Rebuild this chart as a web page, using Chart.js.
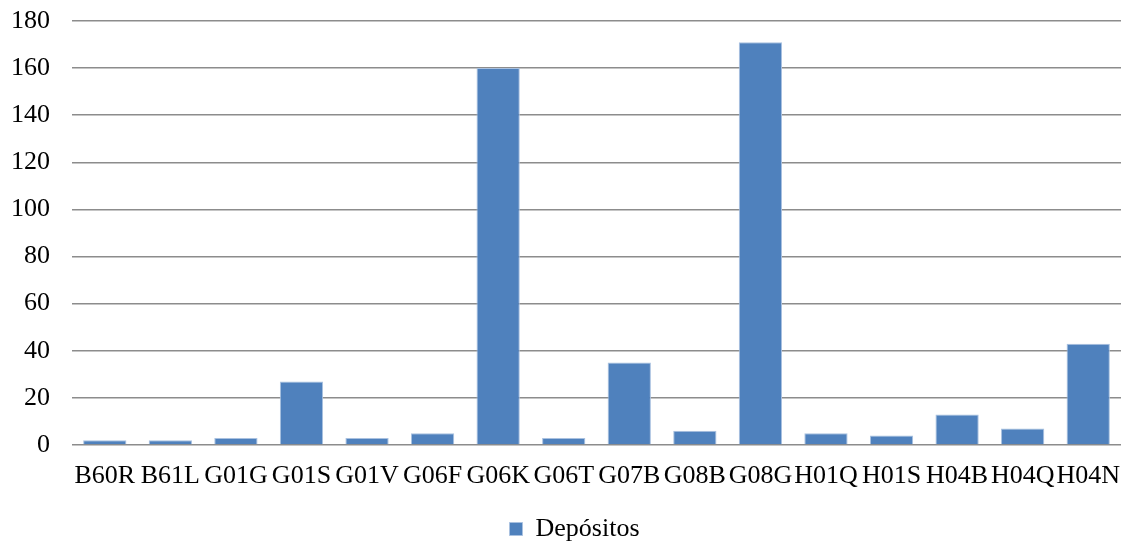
<!DOCTYPE html>
<html>
<head>
<meta charset="utf-8">
<script src="https://cdn.jsdelivr.net/npm/chart.js@4"></script>
<style>
  body { margin: 0; background: #fff; }
  #wrap { width: 1126px; height: 542px; }
</style>
</head>
<body>
<div id="wrap"><canvas id="chart"></canvas></div>
<script>
// Categories and values.
const categories = ['B60R', 'B61L', 'G01G', 'G01S', 'G01V', 'G06F', 'G06K', 'G06T',
    'G07B', 'G08B', 'G08G', 'H01Q', 'H01S', 'H04B', 'H04Q', 'H04N'];
const depositos = [2, 2, 3, 27, 3, 5, 160, 3, 35, 6, 171, 5, 4, 13, 7, 43];
const yTicks = [0, 20, 40, 60, 80, 100, 120, 140, 160, 180];

const font = { family: '"Liberation Serif", "Times New Roman", serif', size: 26, lineHeight: 1.1 };

// Push the legend a little lower and to the right, as in the original.
const legendShift = {
    id: 'legendShift',
    afterLayout(chart) {
        chart.legend.top += 10;
        chart.legend.bottom += 10;
        chart.legend.left += 14;
        chart.legend.right += 14;
    },
};

const ctx = document.getElementById('chart').getContext('2d');
const chart = new Chart(ctx, {
    type: 'bar',
    data: {
        labels: categories,
        datasets: [
            {
                label: 'Depósitos',
                data: depositos,
                backgroundColor: '#4f81bd',
                borderColor: '#a9c1e0',
                borderWidth: 1,
                categoryPercentage: 1,
                barPercentage: 0.66,
            },
        ],
    },
    plugins: [legendShift],
    options: {
        responsive: true,
        maintainAspectRatio: false,
        animation: false,
        layout: { padding: { left: 0, right: 5, top: 21, bottom: 0 } },
        plugins: {
            legend: {
                position: 'bottom',
                labels: {
                    font: font,
                    color: '#000',
                    boxWidth: 13,
                    boxHeight: 13,
                    padding: 4,
                },
            },
            tooltip: { enabled: false },
        },
        scales: {
            x: {
                grid: { display: false },
                border: { display: false },
                ticks: { font: font, color: '#000', maxRotation: 0, autoSkip: false, padding: 9 },
                afterFit: (axis) => { axis.height = 57; axis.paddingLeft = 0; axis.paddingRight = 0; },
            },
            y: {
                min: 0,
                max: 180,
                afterBuildTicks: (axis) => { axis.ticks = yTicks.map((v) => ({ value: v })); },
                afterFit: (axis) => { axis.width = 72; axis.paddingTop = 0; axis.paddingBottom = 0; },
                grid: { color: '#8c8c8c', lineWidth: 1.5, drawTicks: false },
                border: { display: false },
                ticks: { font: font, color: '#000', padding: 22 },
            },
        },
    },
});
</script>
</body>
</html>
